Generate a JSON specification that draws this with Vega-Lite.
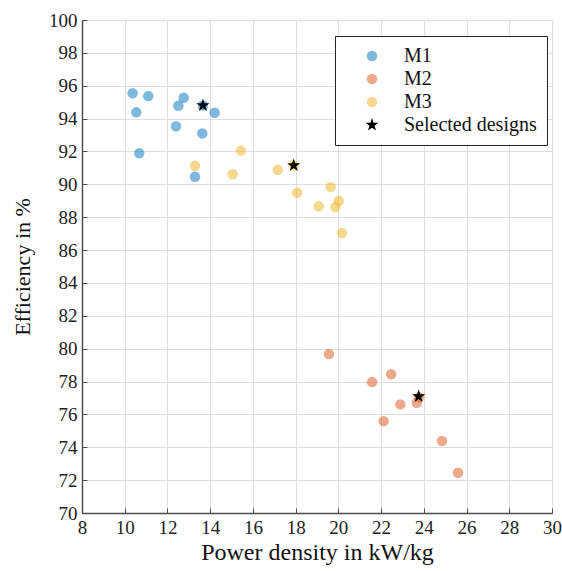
{
  "$schema": "https://vega.github.io/schema/vega-lite/v6.json",
  "autosize": {"type": "none"},
  "padding": {"left": 82, "top": 20, "right": 10, "bottom": 58},
  "width": 470,
  "height": 493,
  "background": "white",
  "config": {
    "font": "Liberation Serif",
    "axis": {"labelFont": "Liberation Serif", "titleFont": "Liberation Serif"},
    "legend": {"labelFont": "Liberation Serif", "titleFont": "Liberation Serif"},
    "view": {"stroke": "#e6e6e6", "strokeWidth": 1}
  },
  "data": {
    "values": [
      {"pd": 10.37, "eff": 95.54, "group": "M1"},
      {"pd": 11.10, "eff": 95.37, "group": "M1"},
      {"pd": 10.54, "eff": 94.38, "group": "M1"},
      {"pd": 12.76, "eff": 95.27, "group": "M1"},
      {"pd": 12.51, "eff": 94.78, "group": "M1"},
      {"pd": 13.66, "eff": 94.80, "group": "M1"},
      {"pd": 14.21, "eff": 94.36, "group": "M1"},
      {"pd": 12.40, "eff": 93.53, "group": "M1"},
      {"pd": 13.63, "eff": 93.10, "group": "M1"},
      {"pd": 10.68, "eff": 91.89, "group": "M1"},
      {"pd": 13.29, "eff": 90.46, "group": "M1"},
      {"pd": 19.56, "eff": 79.67, "group": "M2"},
      {"pd": 21.58, "eff": 77.97, "group": "M2"},
      {"pd": 22.47, "eff": 78.44, "group": "M2"},
      {"pd": 23.78, "eff": 77.05, "group": "M2"},
      {"pd": 23.67, "eff": 76.71, "group": "M2"},
      {"pd": 22.90, "eff": 76.61, "group": "M2"},
      {"pd": 22.12, "eff": 75.59, "group": "M2"},
      {"pd": 24.85, "eff": 74.38, "group": "M2"},
      {"pd": 25.60, "eff": 72.45, "group": "M2"},
      {"pd": 13.29, "eff": 91.13, "group": "M3"},
      {"pd": 15.44, "eff": 92.05, "group": "M3"},
      {"pd": 15.05, "eff": 90.61, "group": "M3"},
      {"pd": 17.16, "eff": 90.89, "group": "M3"},
      {"pd": 17.91, "eff": 91.15, "group": "M3"},
      {"pd": 18.07, "eff": 89.49, "group": "M3"},
      {"pd": 19.64, "eff": 89.84, "group": "M3"},
      {"pd": 19.08, "eff": 88.66, "group": "M3"},
      {"pd": 19.86, "eff": 88.62, "group": "M3"},
      {"pd": 20.02, "eff": 89.00, "group": "M3"},
      {"pd": 20.17, "eff": 87.04, "group": "M3"},
      {"pd": 13.66, "eff": 94.80, "group": "Selected designs"},
      {"pd": 17.91, "eff": 91.15, "group": "Selected designs"},
      {"pd": 23.76, "eff": 77.10, "group": "Selected designs"}
    ]
  },
  "mark": {"type": "point", "filled": true, "strokeWidth": 0},
  "encoding": {
    "x": {
      "field": "pd", "type": "quantitative",
      "scale": {"domain": [8, 30], "nice": false, "zero": false},
      "axis": {
        "title": "Power density in kW/kg",
        "values": [8, 10, 12, 14, 16, 18, 20, 22, 24, 26, 28, 30],
        "grid": true, "gridColor": "#dedede", "gridWidth": 1,
        "domainColor": "#4d4d4d", "domainWidth": 1.5,
        "tickColor": "#4d4d4d", "tickSize": -5, "tickWidth": 1,
        "labelPadding": 10, "labelFontSize": 19, "labelColor": "#222",
        "labelFont": "Liberation Serif", "titleFont": "Liberation Serif",
        "labelFlush": false,
        "titleFontSize": 24, "titleFontWeight": "normal", "titleColor": "#111",
        "titlePadding": 3
      }
    },
    "y": {
      "field": "eff", "type": "quantitative",
      "scale": {"domain": [70, 100], "nice": false, "zero": false},
      "axis": {
        "title": "Efficiency in %",
        "values": [70, 72, 74, 76, 78, 80, 82, 84, 86, 88, 90, 92, 94, 96, 98, 100],
        "grid": true, "gridColor": "#dedede", "gridWidth": 1,
        "domainColor": "#4d4d4d", "domainWidth": 1.5,
        "tickColor": "#4d4d4d", "tickSize": -5, "tickWidth": 1,
        "labelPadding": 10, "labelFontSize": 19, "labelColor": "#222",
        "labelFont": "Liberation Serif", "titleFont": "Liberation Serif",
        "labelFlush": false,
        "titleFontSize": 22, "titleFontWeight": "normal", "titleColor": "#111",
        "titlePadding": 14
      }
    },
    "color": {
      "field": "group", "type": "nominal",
      "scale": {
        "domain": ["M1", "M2", "M3", "Selected designs"],
        "range": ["#0072BD", "#D95319", "#EDB120", "#000000"]
      },
      "legend": {
        "title": null,
        "orient": "none", "legendX": 253, "legendY": 16,
        "strokeColor": "#222", "fillColor": "white",
        "padding": 10, "labelFontSize": 20, "labelColor": "#111",
        "labelFont": "Liberation Serif",
        "symbolOffset": 17, "labelOffset": 22, "rowPadding": 3
      }
    },
    "shape": {
      "field": "group", "type": "nominal",
      "scale": {
        "domain": ["M1", "M2", "M3", "Selected designs"],
        "range": ["circle", "circle", "circle", "M0,-1L0.225,-0.309L0.951,-0.309L0.363,0.118L0.588,0.809L0,0.382L-0.588,0.809L-0.363,0.118L-0.951,-0.309L-0.225,-0.309Z"]
      }
    },
    "opacity": {
      "field": "group", "type": "nominal",
      "scale": {
        "type": "ordinal",
        "domain": ["M1", "M2", "M3", "Selected designs"],
        "range": [0.5, 0.5, 0.5, 1]
      }
    },
    "size": {
      "field": "group", "type": "nominal",
      "scale": {
        "type": "ordinal",
        "domain": ["M1", "M2", "M3", "Selected designs"],
        "range": [110, 110, 110, 190]
      }
    }
  }
}
